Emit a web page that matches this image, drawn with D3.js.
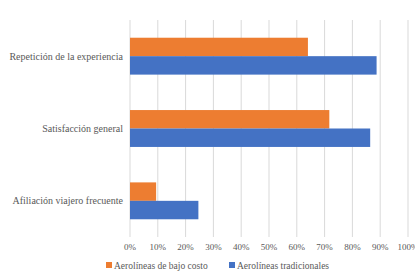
<!DOCTYPE html>
<html>
<head>
<meta charset="utf-8">
<script src="https://cdn.jsdelivr.net/npm/d3@7"></script>
<style>
  body { margin: 0; background: white; }
</style>
</head>
<body>
<div id="chart"></div>
<script>
const categories = ["Repetición de la experiencia", "Satisfacción general", "Afiliación viajero frecuente"];
const seriesNames = ["Aerolíneas de bajo costo", "Aerolíneas tradicionales"];
const lowCost = [0.64, 0.717, 0.094];
const traditional = [0.887, 0.864, 0.246];
const ticks = [0, 0.1, 0.2, 0.3, 0.4, 0.5, 0.6, 0.7, 0.8, 0.9, 1.0];
const colors = ["#ED7D31", "#4472C4"];

const width = 415;
const height = 276;
const margin = { top: 20, right: 7, bottom: 39, left: 130 };
const font = "Liberation Serif";

const svg = d3.select("#chart")
  .append("svg")
  .attr("width", width)
  .attr("height", height)
  .style("font-family", font);

const x = d3.scaleLinear()
  .domain([0, 1])
  .range([margin.left, width - margin.right]);

const y = d3.scaleBand()
  .domain(categories)
  .range([margin.top, height - margin.bottom])
  .paddingInner(0.49)
  .paddingOuter(0.245);

const inner = d3.scaleBand()
  .domain(seriesNames)
  .range([0, y.bandwidth()]);

// Gridlines
svg.append("g")
  .selectAll("line")
  .data(ticks)
  .enter()
  .append("line")
  .attr("x1", d => x(d))
  .attr("x2", d => x(d))
  .attr("y1", margin.top)
  .attr("y2", height - margin.bottom)
  .attr("stroke", "#d9d9d9")
  .attr("stroke-width", 1);

// Bars
const data = categories.map((c, i) => ({ cat: c, values: [lowCost[i], traditional[i]] }));

const groups = svg.selectAll(".group")
  .data(data)
  .enter()
  .append("g")
  .attr("transform", d => `translate(0,${y(d.cat)})`);

groups.selectAll("rect")
  .data(d => d.values.map((v, j) => ({ name: seriesNames[j], value: v, color: colors[j] })))
  .enter()
  .append("rect")
  .attr("x", x(0))
  .attr("y", d => inner(d.name))
  .attr("width", d => x(d.value) - x(0))
  .attr("height", inner.bandwidth())
  .attr("fill", d => d.color);

// Category labels
svg.append("g")
  .selectAll("text")
  .data(categories)
  .enter()
  .append("text")
  .attr("x", margin.left - 7)
  .attr("y", d => y(d) + y.bandwidth() / 2)
  .attr("dy", "0.35em")
  .attr("text-anchor", "end")
  .attr("fill", "#595959")
  .style("font-size", "10px")
  .text(d => d);

// Tick labels
svg.append("g")
  .selectAll("text")
  .data(ticks)
  .enter()
  .append("text")
  .attr("x", d => x(d))
  .attr("y", height - margin.bottom + 10)
  .attr("dy", "0.35em")
  .attr("text-anchor", "middle")
  .attr("fill", "#595959")
  .style("font-size", "9px")
  .text(d => d3.format(".0%")(d));

// Legend
const legendX = [106, 229];
const legend = svg.append("g");
seriesNames.forEach((name, i) => {
  legend.append("rect")
    .attr("x", legendX[i])
    .attr("y", 262)
    .attr("width", 6)
    .attr("height", 6)
    .attr("fill", colors[i]);
  legend.append("text")
    .attr("x", legendX[i] + 8)
    .attr("y", 266)
    .attr("dy", "0.3em")
    .attr("fill", "#595959")
    .style("font-size", "9.5px")
    .text(name);
});
</script>
</body>
</html>
